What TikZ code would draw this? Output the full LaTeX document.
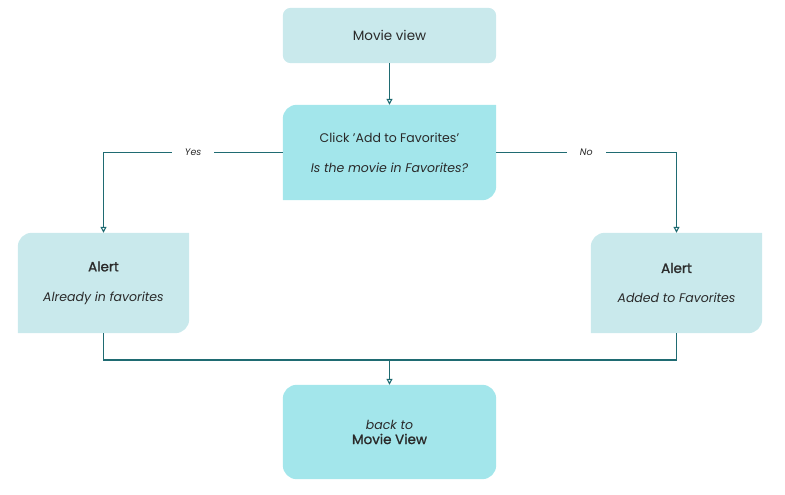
\documentclass[tikz,border=0pt]{standalone}
\usepackage{fontspec}
\setmainfont{Poppins}
\newfontfamily\medfont{Poppins}[FakeBold=1.2]
\usetikzlibrary{arrows.meta,backgrounds}
\definecolor{boxlight}{HTML}{C9E9EC}
\definecolor{boxdark}{HTML}{A3E6EB}
\definecolor{linec}{HTML}{1F6B72}
\definecolor{txt}{HTML}{2A2A2A}
\tikzset{
  box/.style={draw=none,inner sep=0pt,align=center,text=txt,font=\fontsize{12.5}{15}\selectfont},
  conn/.style={draw=linec,line width=1.1pt,-{Triangle[open,length=6pt,width=6pt]}},
  plain/.style={draw=linec,line width=1.1pt},
  lab/.style={fill=white,inner xsep=13pt,inner ysep=3pt,text=txt,font=\fontsize{9.5}{10}\selectfont\itshape}
}
\begin{document}
\begin{tikzpicture}[x=1pt,y=1pt]
\useasboundingbox (0,0) rectangle (785,495);
\node[box,minimum width=213pt,minimum height=55pt] (mv) at (389.5,459.5) {\fontsize{13.5}{15}\selectfont Movie view};
\node[box,minimum width=213pt,minimum height=95pt] (dec) at (389.5,342.5) {Click 'Add to Favorites'\\[15pt] \itshape Is the movie in Favorites?};
\node[box,minimum width=171pt,minimum height=100pt] (al) at (103.5,212) {\medfont\fontsize{13.5}{15}\selectfont Alert\\[15pt] \itshape Already in favorites};
\node[box,minimum width=171pt,minimum height=100pt] (ar) at (676.5,212) {\medfont\fontsize{13.5}{15}\selectfont Alert\\[15pt] \itshape Added to Favorites};
\node[box,minimum width=213pt,minimum height=94pt] (bk) at (389.5,63) {\itshape back to\\[0pt] \medfont\fontsize{13.5}{15}\selectfont Movie View};
\begin{pgfonlayer}{background}
\fill[boxlight,rounded corners=8pt] (mv.south west) rectangle (mv.north east);
\fill[boxdark,rounded corners=14pt] (bk.south west) rectangle (bk.north east);
\foreach \n/\c in {dec/boxdark,al/boxlight,ar/boxlight}{
  \fill[\c] (\n.south west) -- ([yshift=-14pt]\n.north west) arc[start angle=180,end angle=90,radius=14pt]
    -- (\n.north east) -- ([yshift=14pt]\n.south east) arc[start angle=0,end angle=-90,radius=14pt] -- cycle;
}
\end{pgfonlayer}
\coordinate (j) at (389.5,135);
\draw[conn] (mv) -- (dec);
\draw[conn] (dec.west) -| node[lab,pos=0.25] {Yes} (al.north);
\draw[conn] (dec.east) -| node[lab,pos=0.25] {No} (ar.north);
\draw[plain] (al.south) |- (j) -| (ar.south);
\draw[conn] (j) -- (bk.north);
\end{tikzpicture}
\end{document}
